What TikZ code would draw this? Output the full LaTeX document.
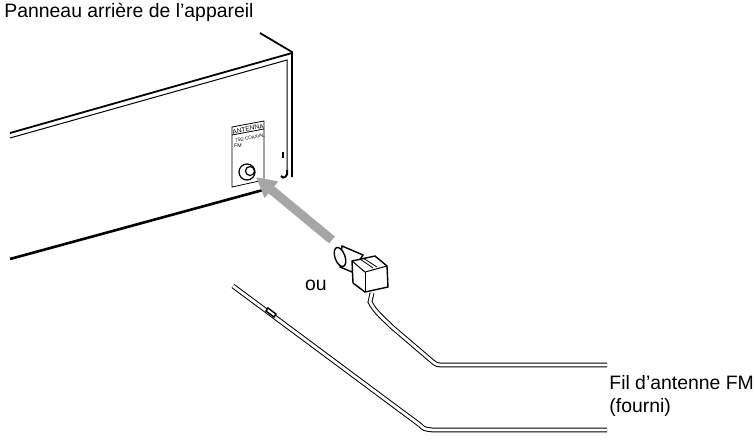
\documentclass[tikz,border=0pt]{standalone}
\usepackage{fontspec}
\setmainfont{Liberation Sans}
\usetikzlibrary{arrows.meta}
\begin{document}
\begin{tikzpicture}[x=0.5pt,y=-0.5pt,
    edge/.style={line width=0.9pt},
    wire/.style={double=white,double distance=1.4pt,line width=0.5pt},
    lbl/.style={font=\fontsize{9.7}{11.5}\selectfont,inner sep=0pt}]
  \useasboundingbox (0,0) rectangle (756,440);
  % cabinet
  \draw[edge] (260,33) -- (292,52) -- (292,177);
  \draw[edge] (10,133) -- (292,53);
  \draw[line width=0.5pt] (10,138) -- (287,60) -- (287,170);
  \draw[line width=1.3pt] (10,259) -- (263,190);
  \draw[line width=1pt] (287,170) .. controls (289,176) and (283,180) .. (281,176);
  \draw[line width=1pt] (283,152) -- (283,158);
  % panel
  \draw[line width=0.4pt] (232,127) -- (264,121) -- (264,180) -- (232,187) -- cycle;
  \draw[line width=0.4pt] (232,135) -- (264,129);
  \node[inner sep=0pt,font=\fontsize{3.3}{3.5}\selectfont,rotate=11] (ant) at (248,129) {ANTENNA};
  \node[inner sep=0pt,font=\fontsize{2.3}{2.5}\selectfont,rotate=11] (coax) at (250,138) {75Ω COAXIAL};
  \node[inner sep=0pt,font=\fontsize{2.6}{3}\selectfont] (fm) at (238,146) {FM};
  \draw[line width=0.6pt] (247,172) circle (8);
  \draw[line width=0.6pt] (250,171) circle (4.5);
  % arrow
  \draw[line width=4.5pt,gray!70,-{Triangle[length=10pt,width=10pt]}] (332,240) -- (256,177);
  % plug
  \draw[fill=white,line width=0.7pt] (342,246) -- (363,255) -- (352,272) -- (340,267) -- cycle;
  \draw[fill=white,line width=0.7pt,rotate around={20:(340,257)}] (340,257) ellipse (5 and 10);
  \draw[fill=white,line width=0.7pt] (352,261) -- (375,256) -- (387,266) -- (388,287) -- (365,292) -- (353,283) -- cycle;
  \draw[line width=0.5pt] (352,261) -- (365,272) -- (387,266);
  \draw[line width=0.5pt] (365,272) -- (365,292);
  \draw[line width=0.4pt] (360,259) -- (373,268) (363,258) -- (377,267);
  % wires
  \draw[wire] (372,293) -- (370,302) .. controls (375,312) and (385,320) .. (392,327) -- (433,362) .. controls (437,365) .. (445,365) -- (607,365);
  \draw[wire] (233,286) -- (420,425) .. controls (424,429) .. (433,430) -- (607,430);
  \draw[line width=0.7pt,fill=white] (268,308) -- (276,314) -- (274,317) -- (266,311) -- cycle;
  % texts
  \node[lbl,anchor=west] (title) at (4,12) {Panneau arrière de l’appareil};
  \node[lbl] (ou) at (316,285) {ou};
  \node[lbl,anchor=west,align=left] (fil) at (609,396) {Fil d’antenne FM\\(fourni)};
\end{tikzpicture}
\end{document}
